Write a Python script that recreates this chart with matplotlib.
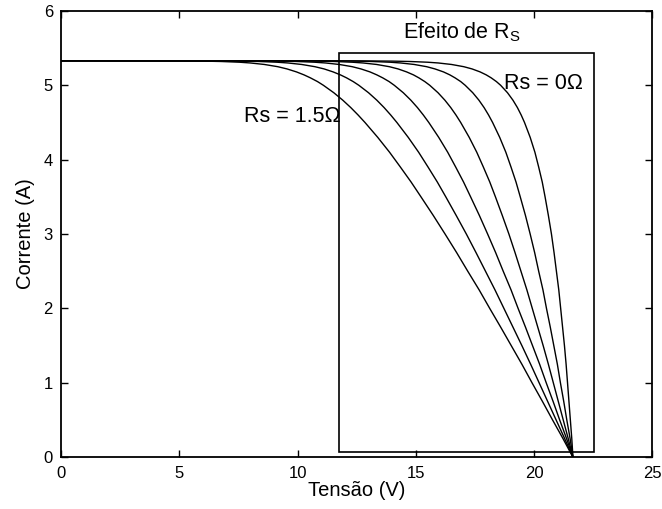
import matplotlib
matplotlib.use('Agg')
import matplotlib.pyplot as plt
from matplotlib.patches import Rectangle

plt.rcParams['font.family'] = ['Liberation Sans', 'DejaVu Sans']
plt.rcParams['mathtext.fontset'] = 'custom'
plt.rcParams['mathtext.rm'] = 'Liberation Sans'

# current grid (A) shared by all the I-V curves
corrente = [5.33, 5.329, 5.325, 5.32, 5.31, 5.30, 5.28, 5.25, 5.22, 5.18,
            5.14, 5.10, 5.05, 5.00, 4.90, 4.80, 4.70, 4.60, 4.50, 4.30,
            4.10, 3.90, 3.70, 3.50, 3.25, 3.00, 2.75, 2.50, 2.25, 2.00,
            1.75, 1.50, 1.25, 1.00, 0.75, 0.50, 0.25, 0.00]

# panel voltage (V) of each curve at those currents
v_rs_0_0 = [0, 12.21, 13.98, 14.74, 15.51, 15.95, 16.51, 17.03, 17.38, 17.72,
            17.98, 18.19, 18.41, 18.59, 18.88, 19.11, 19.30, 19.46, 19.60, 19.84,
            20.04, 20.20, 20.35, 20.47, 20.61, 20.74, 20.85, 20.95, 21.05, 21.13,
            21.21, 21.29, 21.36, 21.42, 21.48, 21.54, 21.60, 21.65]
v_rs_0_3 = [0, 10.61, 12.38, 13.14, 13.92, 14.36, 14.93, 15.46, 15.81, 16.17,
            16.44, 16.66, 16.90, 17.09, 17.41, 17.67, 17.89, 18.08, 18.25, 18.55,
            18.81, 19.03, 19.24, 19.42, 19.64, 19.84, 20.03, 20.20, 20.38, 20.53,
            20.69, 20.84, 20.99, 21.12, 21.26, 21.39, 21.53, 21.65]
v_rs_0_6 = [0, 9.01, 10.79, 11.55, 12.32, 12.77, 13.34, 13.88, 14.25, 14.61,
            14.90, 15.13, 15.38, 15.59, 15.94, 16.23, 16.48, 16.70, 16.90, 17.26,
            17.58, 17.86, 18.13, 18.37, 18.66, 18.94, 19.20, 19.45, 19.70, 19.93,
            20.16, 20.39, 20.61, 20.82, 21.03, 21.24, 21.45, 21.65]
v_rs_0_9 = [0, 7.41, 9.19, 9.95, 10.73, 11.18, 11.76, 12.31, 12.68, 13.06,
            13.35, 13.60, 13.87, 14.09, 14.47, 14.79, 15.07, 15.32, 15.55, 15.97,
            16.35, 16.69, 17.02, 17.32, 17.69, 18.04, 18.38, 18.70, 19.03, 19.33,
            19.64, 19.94, 20.24, 20.52, 20.81, 21.09, 21.38, 21.65]
v_rs_1_2 = [0, 5.82, 7.59, 8.36, 9.14, 9.59, 10.17, 10.73, 11.12, 11.50,
            11.81, 12.07, 12.35, 12.59, 13.00, 13.35, 13.66, 13.94, 14.20, 14.68,
            15.12, 15.52, 15.91, 16.27, 16.71, 17.14, 17.55, 17.95, 18.35, 18.73,
            19.11, 19.49, 19.86, 20.22, 20.58, 20.94, 21.30, 21.65]
v_rs_1_5 = [0, 4.22, 5.99, 6.76, 7.55, 8.00, 8.59, 9.16, 9.55, 9.95,
            10.27, 10.54, 10.84, 11.09, 11.53, 11.91, 12.25, 12.56, 12.85, 13.39,
            13.89, 14.35, 14.80, 15.22, 15.74, 16.24, 16.73, 17.20, 17.68, 18.13,
            18.59, 19.04, 19.49, 19.92, 20.36, 20.79, 21.23, 21.65]

curvas = [v_rs_0_0, v_rs_0_3, v_rs_0_6, v_rs_0_9, v_rs_1_2, v_rs_1_5]

fig = plt.figure(figsize=(6.62, 5.09), dpi=100)
ax = fig.add_axes([0.0926, 0.1016, 0.8925, 0.877])

for v in curvas:
    ax.plot(v, corrente, color='black', lw=1.0)

# box around the region affected by Rs
ax.add_patch(Rectangle((11.77, 0.07), 10.75, 5.37, fill=False,
                       edgecolor='black', lw=1.2))

ax.text(16.95, 5.72, r'Efeito de R$_\mathregular{S}$', fontsize=15.5,
        ha='center', va='center')
ax.text(18.72, 5.03, 'Rs = 0\u03a9', fontsize=15.5, ha='left', va='center')
ax.text(7.75, 4.58, 'Rs = 1.5\u03a9', fontsize=15.5, ha='left', va='center')

ax.set_xlim(0, 25)
ax.set_ylim(0, 6)
ax.set_xticks([0, 5, 10, 15, 20, 25])
ax.set_yticks([0, 1, 2, 3, 4, 5, 6])
ax.tick_params(direction='in', top=True, right=True, length=5, width=1.0,
               labelsize=12, pad=6)
for s in ax.spines.values():
    s.set_linewidth(1.3)

ax.set_xlabel('Tensão (V)', fontsize=14.5, labelpad=0)
ax.set_ylabel('Corrente (A)', fontsize=14.5, labelpad=6)

fig.savefig('out.png', dpi=100)
